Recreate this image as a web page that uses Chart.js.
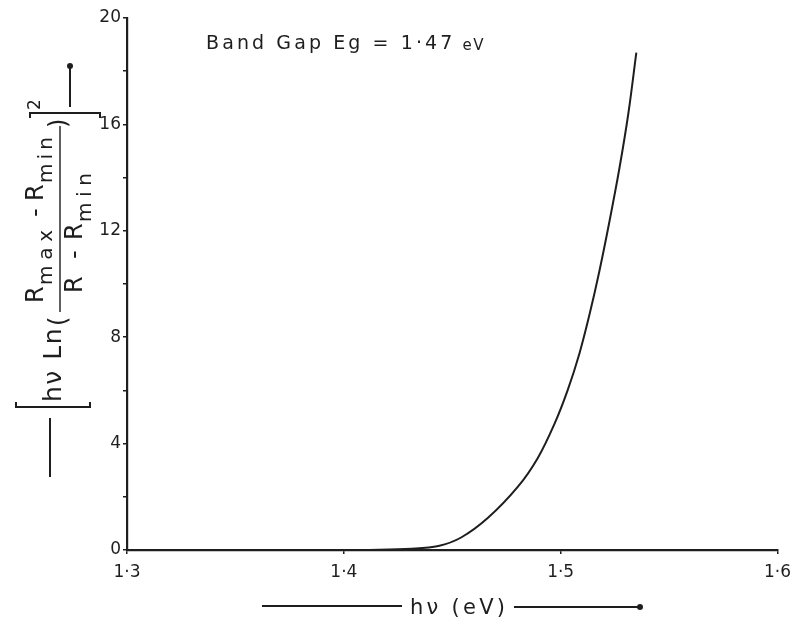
<!DOCTYPE html>
<html>
<head>
<meta charset="utf-8">
<script src="https://cdn.jsdelivr.net/npm/chart.js@4/dist/chart.umd.min.js"></script>
<style>
  html, body { margin: 0; padding: 0; background: #ffffff; }
  #wrap { width: 799px; height: 624px; }
</style>
</head>
<body>
<div id="wrap"><canvas id="c" width="799" height="624"></canvas></div>
<script>
// ---- data ----
const photonEnergy = [1.4083, 1.4312, 1.4436, 1.4541, 1.4665, 1.4803, 1.4894, 1.4972, 1.5032, 1.5087, 1.5133, 1.5179, 1.5225, 1.5271, 1.5312, 1.5349];
const absorptionFn = [0, 0.05, 0.15, 0.47, 1.21, 2.38, 3.45, 4.75, 6.0, 7.4, 8.85, 10.5, 12.35, 14.35, 16.4, 18.7];
const xTickValues = [1.3, 1.4, 1.5, 1.6];
const yTickValues = [0, 4, 8, 12, 16, 20];
const chartTitle = "Band Gap Eg = 1·47 ";
const chartTitleUnit = "eV";
const xTitle = "hν (eV)";

const FONT = "'DejaVu Sans', sans-serif";
const INK = "#1e1e1e";

const points = photonEnergy.map((x, i) => ({ x: x, y: absorptionFn[i] }));

function fmtX(v) { return v.toFixed(1).replace('.', '·'); }

function spaced(ctx, text, x, y, sp) {
  let cx = x;
  for (const ch of text) {
    ctx.fillText(ch, cx, y);
    cx += ctx.measureText(ch).width + sp;
  }
  return cx;
}
function fitText(ctx, text, x0, x1, y) {
  const chars = [...text];
  let w = 0;
  for (const ch of chars) w += ctx.measureText(ch).width;
  const sp = chars.length > 1 ? Math.max(0, (x1 - x0 - w) / (chars.length - 1)) : 0;
  spaced(ctx, text, x0, y, sp);
}

const annotations = {
  id: 'annotations',
  afterDraw(chart) {
    const ctx = chart.ctx;
    ctx.save();
    ctx.fillStyle = INK;
    ctx.strokeStyle = INK;
    ctx.textAlign = 'left';
    ctx.textBaseline = 'alphabetic';

    // Title
    ctx.font = "19px " + FONT;
    let ex = spaced(ctx, chartTitle, 206, 49, 3.1);
    ctx.font = "15px " + FONT;
    spaced(ctx, chartTitleUnit, ex - 2, 50, 1.5);

    // X-axis title with arrow lines
    ctx.font = "21px " + FONT;
    fitText(ctx, xTitle, 410, 505, 614);
    ctx.lineWidth = 2;
    ctx.beginPath();
    ctx.moveTo(262, 606); ctx.lineTo(402, 606);
    ctx.moveTo(514, 607); ctx.lineTo(640, 607);
    ctx.stroke();
    ctx.beginPath(); ctx.arc(640, 607, 3, 0, Math.PI * 2); ctx.fill();

    // Y-axis title (rotated); rotated frame (u, v) -> screen (x = v, y = -u)
    ctx.save();
    ctx.rotate(-Math.PI / 2);
    ctx.lineWidth = 2;
    // bottom arrow line
    ctx.beginPath();
    ctx.moveTo(-477, 50); ctx.lineTo(-418, 50);
    ctx.stroke();
    // bottom bracket [
    ctx.beginPath();
    ctx.moveTo(-402, 16); ctx.lineTo(-407, 16); ctx.lineTo(-407, 90); ctx.lineTo(-402, 90);
    ctx.stroke();
    // hν Ln(
    ctx.font = "25px " + FONT;
    spaced(ctx, "hν Ln", -402, 61, 1.5);
    ctx.font = "24px " + FONT;
    ctx.fillText("(", -326, 66);
    // fraction bar
    ctx.lineWidth = 1.4;
    ctx.beginPath();
    ctx.moveTo(-312, 60); ctx.lineTo(-126, 60);
    ctx.stroke();
    // numerator R_max - R_min
    ctx.font = "24px " + FONT;
    ctx.fillText("R", -303, 43);
    ctx.fillText("-", -217, 43);
    ctx.fillText("R", -201, 43);
    ctx.font = "20px " + FONT;
    fitText(ctx, "max", -285, -230, 52);
    fitText(ctx, "min", -183, -137, 52);
    // denominator R - R_min
    ctx.font = "24px " + FONT;
    ctx.fillText("R", -293, 82);
    ctx.fillText("-", -259, 82);
    ctx.fillText("R", -240, 82);
    ctx.font = "20px " + FONT;
    fitText(ctx, "min", -222, -173, 91);
    // closing paren
    ctx.font = "24px " + FONT;
    ctx.fillText(")", -128, 66);
    // top bracket ]
    ctx.lineWidth = 2;
    ctx.beginPath();
    ctx.moveTo(-118, 30); ctx.lineTo(-113, 30); ctx.lineTo(-113, 100); ctx.lineTo(-118, 100);
    ctx.stroke();
    // superscript 2
    ctx.font = "17px " + FONT;
    ctx.fillText("2", -110, 40);
    // top arrow line with dot
    ctx.beginPath();
    ctx.moveTo(-107, 70); ctx.lineTo(-66, 70);
    ctx.stroke();
    ctx.beginPath(); ctx.arc(-66, 70, 3, 0, Math.PI * 2); ctx.fill();
    ctx.restore();

    ctx.restore();
  }
};

new Chart(document.getElementById('c'), {
  type: 'scatter',
  data: {
    datasets: [{
      data: points,
      showLine: true,
      borderColor: INK,
      borderWidth: 2,
      pointRadius: 0,
      tension: 0.35,
      fill: false
    }]
  },
  options: {
    responsive: false,
    animation: false,
    events: [],
    layout: { padding: { left: 0, top: 18, right: 18, bottom: 0 } },
    plugins: { legend: { display: false }, tooltip: { enabled: false }, title: { display: false } },
    scales: {
      x: {
        type: 'linear',
        min: 1.3, max: 1.6,
        afterFit(scale) { scale.height = 74; },
        afterBuildTicks(scale) { scale.ticks = xTickValues.map(v => ({ value: v })); },
        border: { display: true, color: INK, width: 2.2 },
        grid: { display: true, drawOnChartArea: false, drawTicks: true, tickLength: 4, color: INK, lineWidth: 1.5 },
        ticks: {
          color: INK, padding: 8,
          font: { family: FONT, size: 17 },
          callback: (v) => fmtX(v)
        }
      },
      y: {
        type: 'linear',
        min: 0, max: 20,
        afterFit(scale) { scale.width = 127; },
        afterBuildTicks(scale) {
          const t = [];
          for (let v = 0; v <= 20; v += 2) t.push({ value: v });
          scale.ticks = t;
        },
        border: { display: true, color: INK, width: 2.2 },
        grid: { display: true, drawOnChartArea: false, drawTicks: true, tickLength: 4, color: INK, lineWidth: 1.5 },
        ticks: {
          color: INK, padding: 2,
          font: { family: FONT, size: 17 },
          callback: (v) => (yTickValues.includes(v) ? String(v) : '')
        }
      }
    }
  },
  plugins: [annotations]
});
</script>
</body>
</html>
